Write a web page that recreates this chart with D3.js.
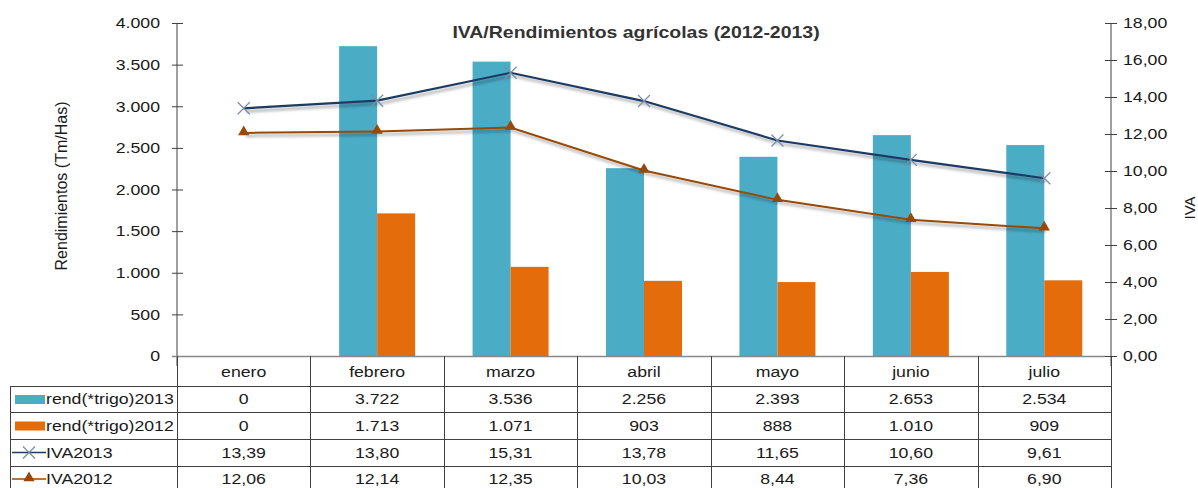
<!DOCTYPE html>
<html>
<head>
<meta charset="utf-8">
<script src="https://cdn.jsdelivr.net/npm/d3@7"></script>
<style>
  body { margin: 0; background: #fff; }
  svg { display: block; font-family: "Liberation Sans", Arial, sans-serif; }
</style>
</head>
<body>
<svg id="chart" width="1198" height="488"></svg>
<script>
const months = ["enero", "febrero", "marzo", "abril", "mayo", "junio", "julio"];
const rend2013 = [0, 3722, 3536, 2256, 2393, 2653, 2534];
const rend2012 = [0, 1713, 1071, 903, 888, 1010, 909];
const iva2013 = [13.39, 13.80, 15.31, 13.78, 11.65, 10.60, 9.61];
const iva2012 = [12.06, 12.14, 12.35, 10.03, 8.44, 7.36, 6.90];
const leftTicks = [0, 500, 1000, 1500, 2000, 2500, 3000, 3500, 4000];
const rightTicks = [0, 2, 4, 6, 8, 10, 12, 14, 16, 18];

const es = d3.formatLocale({decimal: ",", thousands: ".", grouping: [3], currency: ["", " €"]});
const fInt = es.format(",.0f"), fDec = es.format(",.2f");

const svg = d3.select("#chart");
const plot = {left: 177, right: 1111, top: 23, bottom: 356};
const colBlue = "#4bacc6", colOrange = "#e46c0a", colNavy = "#1f3b64", colBrown = "#984807";
const textCol = "#1a1a1a";
const SX = 1.18; // the original text is a bit wider than Arial

function txt(g, x, y, s, size, anchor, weight) {
  return g.append("text").attr("transform", `translate(${x},${y}) scale(${SX},1)`)
    .attr("text-anchor", anchor || "middle").attr("font-size", size)
    .attr("font-weight", weight || "normal").attr("fill", textCol).text(s);
}

const x = d3.scaleBand().domain(months).range([plot.left, plot.right]).padding(0);
const cw = x.bandwidth();
const x1 = d3.scaleBand().domain(["2013", "2012"]).range([cw / 2 - 38, cw / 2 + 38]).padding(0);
const yL = d3.scaleLinear().domain([0, 4000]).range([plot.bottom, plot.top]);
const yR = d3.scaleLinear().domain([0, 18]).range([plot.bottom, plot.top]);

// shadow for the lines
const defs = svg.append("defs");
defs.append("filter").attr("id", "shadow").attr("x", "-10%").attr("y", "-50%").attr("width", "120%").attr("height", "200%")
  .append("feDropShadow").attr("dx", 2).attr("dy", 3).attr("stdDeviation", 1.6)
  .attr("flood-color", "#000").attr("flood-opacity", 0.35);

// bars
const bars = svg.append("g");
months.forEach((m, i) => {
  [["2013", rend2013[i], colBlue], ["2012", rend2012[i], colOrange]].forEach(([k, v, c]) => {
    if (!v) return;
    bars.append("rect")
      .attr("x", x(m) + x1(k)).attr("width", x1.bandwidth())
      .attr("y", yL(v)).attr("height", yL(0) - yL(v))
      .attr("fill", c);
  });
});

// axes
const axL = svg.append("g").attr("transform", `translate(${plot.left},0)`)
  .call(d3.axisLeft(yL).tickValues(leftTicks).tickFormat(fInt).tickSizeInner(5).tickSizeOuter(0));
const axR = svg.append("g").attr("transform", `translate(${plot.right},0)`)
  .call(d3.axisRight(yR).tickValues(rightTicks).tickFormat(fDec).tickSizeInner(6).tickSizeOuter(0));
[axL, axR].forEach(a => {
  a.select(".domain").attr("stroke", "#404040").attr("d", `M0,${plot.top}V${plot.bottom + 10}`);
  a.selectAll(".tick line").attr("stroke", "#404040");
  a.selectAll("text").attr("font-size", 15).attr("fill", textCol).attr("font-family", "Liberation Sans, Arial, sans-serif");
});
axL.selectAll(".tick line").attr("x1", 6).attr("x2", -5);
axL.selectAll(".tick text").attr("x", 0).attr("transform", `translate(-17,0) scale(${SX},1)`);
axR.selectAll(".tick line").attr("x1", -6).attr("x2", 6);
axR.selectAll(".tick text").attr("x", 0).attr("transform", `translate(12,0) scale(${SX},1)`);

// baseline
svg.append("line").attr("x1", plot.left - 5).attr("x2", plot.right - 6)
  .attr("y1", plot.bottom + 0.5).attr("y2", plot.bottom + 0.5).attr("stroke", "#888").attr("stroke-width", 1.5);

// lines
const line = d3.line().x((d, i) => x(months[i]) + cw / 2).y(d => yR(d));
svg.append("path").datum(iva2012).attr("d", line).attr("fill", "none")
  .attr("stroke", colBrown).attr("stroke-width", 2).attr("filter", "url(#shadow)");
svg.append("path").datum(iva2013).attr("d", line).attr("fill", "none")
  .attr("stroke", colNavy).attr("stroke-width", 2.2).attr("filter", "url(#shadow)");

const tri = d3.symbol().type(d3.symbolTriangle).size(55);
function crossMark(g, cx, cy) {
  g.append("path").attr("d", `M${cx - 6},${cy - 6}L${cx + 6},${cy + 6}M${cx - 6},${cy + 6}L${cx + 6},${cy - 6}`)
    .attr("stroke", "#7b8fa8").attr("stroke-width", 1.3).attr("fill", "none");
}
const mk = svg.append("g");
iva2012.forEach((v, i) => {
  mk.append("path").attr("d", tri).attr("transform", `translate(${x(months[i]) + cw / 2},${yR(v) - 1})`)
    .attr("fill", colBrown);
});
iva2013.forEach((v, i) => crossMark(mk, x(months[i]) + cw / 2, yR(v)));

// title and axis titles
txt(svg, 636, 38, "IVA/Rendimientos agrícolas (2012-2013)", 16.5, "middle", "bold").attr("fill", "#333");
svg.append("text").attr("transform", "translate(67,186) rotate(-90)").attr("text-anchor", "middle")
  .attr("font-size", 16).attr("fill", textCol).text("Rendimientos (Tm/Has)");
svg.append("text").attr("transform", "translate(1195,208) rotate(-90)").attr("text-anchor", "middle")
  .attr("font-size", 15).attr("fill", textCol).text("IVA");

// data table
const tbl = svg.append("g");
const tableLeft = 10;
const rowY = [356, 386, 412, 439, 466, 492];
const rows = [
  {name: "rend(*trigo)2013", vals: rend2013.map(fInt), key: "bar", color: colBlue},
  {name: "rend(*trigo)2012", vals: rend2012.map(fInt), key: "bar", color: colOrange},
  {name: "IVA2013", vals: iva2013.map(fDec), key: "cross", color: colNavy},
  {name: "IVA2012", vals: iva2012.map(fDec), key: "tri", color: colBrown}
];
const gridCol = "#404040";
rowY.slice(1).forEach(yy => {
  tbl.append("line").attr("x1", tableLeft).attr("x2", plot.right).attr("y1", yy + 0.5).attr("y2", yy + 0.5)
    .attr("stroke", gridCol);
});
tbl.append("line").attr("x1", tableLeft + 0.5).attr("x2", tableLeft + 0.5).attr("y1", rowY[1]).attr("y2", 488)
  .attr("stroke", gridCol);
months.forEach(m => {
  tbl.append("line").attr("x1", Math.round(x(m)) + 0.5).attr("x2", Math.round(x(m)) + 0.5)
    .attr("y1", plot.bottom).attr("y2", 488).attr("stroke", gridCol);
  txt(tbl, x(m) + cw / 2, 377, m, 15);
});
tbl.append("line").attr("x1", plot.right + 0.5).attr("x2", plot.right + 0.5)
  .attr("y1", plot.bottom).attr("y2", 488).attr("stroke", gridCol);

rows.forEach((r, ri) => {
  const cy = (rowY[ri + 1] + rowY[ri + 2]) / 2;
  if (r.key === "bar") {
    tbl.append("rect").attr("x", 15).attr("y", cy - 4).attr("width", 30).attr("height", 9).attr("fill", r.color);
  } else {
    tbl.append("line").attr("x1", 12).attr("x2", 46).attr("y1", cy).attr("y2", cy)
      .attr("stroke", r.color).attr("stroke-width", 1.5);
    if (r.key === "cross") crossMark(tbl, 29, cy);
    else tbl.append("path").attr("d", tri).attr("transform", `translate(29,${cy - 1})`).attr("fill", r.color);
  }
  txt(tbl, 46, cy + 5, r.name, 15, "start");
  r.vals.forEach((v, i) => txt(tbl, x(months[i]) + cw / 2, cy + 5, v, 15));
});
</script>
</body>
</html>
